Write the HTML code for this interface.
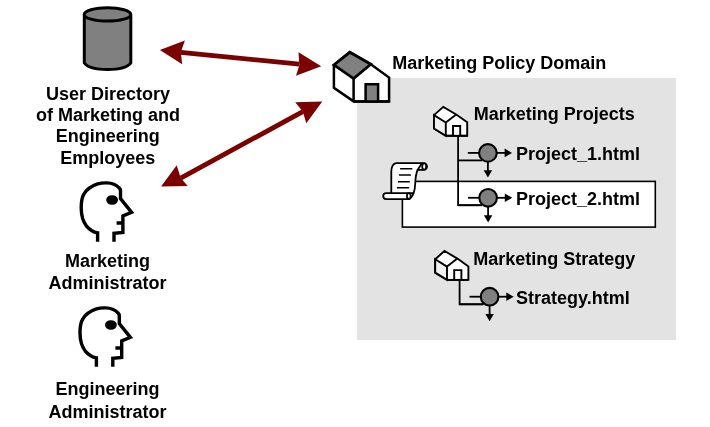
<!DOCTYPE html>
<html><head><meta charset="utf-8">
<style>
html,body{margin:0;padding:0;background:#fff;width:710px;height:427px;overflow:hidden}
svg{position:absolute;left:0;top:0;display:block;will-change:transform}
text{font-family:"Liberation Sans",sans-serif;font-weight:bold;font-size:18px;fill:#000}
</style></head><body>
<svg width="710" height="427" viewBox="0 0 710 427">
<defs>
 <g id="smallhouse" stroke="#000" stroke-width="1.9">
  <path d="M434 115.1 L443.3 106.9 L456.2 114.5 L467.2 122.3 L467.2 135.8 L445.8 135.8 L434 128.5 Z" fill="#fff" stroke-linejoin="miter"/>
  <path d="M434 115.1 L445.8 122.5 L445.8 135.8 L434 128.5 Z" fill="#f0f0f0"/>
  <path d="M445.8 122.5 L456.2 114.5" fill="none"/>
  <path d="M453 135.8 V126 H460.2 V135.8" fill="#fff"/>
  <path d="M445.8 135.8 H467.2" fill="none"/>
 </g>
 <g id="node" stroke="#000" stroke-width="1.8">
  <path d="M467.8 152.9 H481"/>
  <path d="M458.1 160.4 H482" fill="none"/>
  <path d="M496 152.9 H506"/>
  <path d="M504.6 148.6 L512 152.9 L504.6 157.2 Z" fill="#000" stroke="none"/>
  <path d="M487.9 162 V171"/>
  <path d="M483.7 170.3 L487.9 177.5 L492.1 170.3 Z" fill="#000" stroke="none"/>
  <circle cx="487.9" cy="152.9" r="8.8" fill="#808080" stroke-width="2.1"/>
 </g>
</defs>

<!-- grey panel -->
<rect x="357" y="78" width="319" height="262" fill="#e3e3e3"/>

<!-- cylinder -->
<path d="M84.3 14.5 V62.8 C91 71.6 124 71.6 130.8 62.8 V14.5" fill="#808080" stroke="#000" stroke-width="3" stroke-linejoin="miter"/>
<ellipse cx="107.5" cy="14.45" rx="23.25" ry="6.65" fill="#808080" stroke="#000" stroke-width="3"/>

<!-- labels left -->
<text x="108" y="99.6" text-anchor="middle">User Directory</text>
<text x="108" y="121.1" text-anchor="middle">of Marketing and</text>
<text x="107.7" y="142.4" text-anchor="middle">Engineering</text>
<text x="107.8" y="164.1" text-anchor="middle">Employees</text>
<text x="107.5" y="266.9" text-anchor="middle">Marketing</text>
<text x="107.5" y="288.7" text-anchor="middle">Administrator</text>
<text x="107.5" y="395.3" text-anchor="middle">Engineering</text>
<text x="107.5" y="417.5" text-anchor="middle">Administrator</text>

<!-- heads -->
<g id="head" fill="none" stroke="#000" stroke-width="3.4" stroke-linejoin="miter">
 <path d="M97.6 241.8 V232.8 C93 232 89 229 86.3 225.8 C83 221.5 81.3 216 81.2 208 C81.2 201 82 197 84 194 C86 190.5 90 186.5 97.6 183.9 C101 182.9 104 182.8 106.9 182.9 C111 183 116 184.5 119.1 187.8 C120.3 189 120.5 190 120.5 191.1 V198.6 L131.6 212.4 L122.9 216 V232.4 L114 233.3 V241.8 M116.6 223 H123"/>
 <ellipse cx="112.1" cy="200" rx="5.9" ry="4.8" fill="#000" stroke="none"/>
</g>
<use href="#head" x="-1.2" y="125"/>

<!-- red arrows -->
<g fill="#7b0000">
 <path d="M181.04 49.9 L299.54 61.8 L299.06 66.6 L180.56 54.7 Z"/>
 <path d="M159.9 49.9 L184.9 40.5 L180.8 52.2 L182.2 64.2 Z"/>
 <path d="M321.2 66.3 L298.5 52.3 L299.3 65.2 L296 75.7 Z"/>
 <path d="M179.55 175.99 L301.65 109.49 L303.95 113.71 L181.85 180.21 Z"/>
 <path d="M161.1 186.5 L176.7 165.2 L180.7 178.1 L187.7 186.1 Z"/>
 <path d="M322.3 101.4 L295.2 102.2 L302.8 111.6 L306.3 123.3 Z"/>
</g>

<!-- big house -->
<path d="M333.9 65 L349.8 52.3 L370.8 64.3 L389.1 77.6 V101.4 H353.6 L333.9 87.8 Z" fill="#fff" stroke="#000" stroke-width="2.5" stroke-linejoin="miter"/>
<path d="M333.9 65 L349.8 52.3 L370.8 64.3 L353.6 78.6 Z" fill="#808080" stroke="#000" stroke-width="2.8" stroke-linejoin="miter"/>
<path d="M353.6 78.6 V101.4" stroke="#000" stroke-width="2.5"/>
<path d="M365.6 101.4 V84.2 H378.1 V101.4" fill="#808080" stroke="#000" stroke-width="2.5"/>
<path d="M353.6 101.4 H389.1" stroke="#000" stroke-width="2.5"/>

<text x="392.2" y="68.7">Marketing Policy Domain</text>

<!-- projects -->
<rect x="402.4" y="181.4" width="252.9" height="45.7" fill="#fff" stroke="#000" stroke-width="1.6"/>
<use href="#smallhouse"/>
<path d="M458.1 135.6 V205.2 H482" fill="none" stroke="#000" stroke-width="1.8"/>
<use href="#node"/>
<use href="#node" x="0.2" y="44.9"/>
<text x="473.7" y="119.5">Marketing Projects</text>
<text x="515.9" y="159.8">Project_1.html</text>
<text x="515.9" y="204.7">Project_2.html</text>

<!-- scroll -->
<g stroke="#000" stroke-width="1.8" stroke-linejoin="round" stroke-linecap="round" fill="#fff">
 <path d="M396.2 163.1 H423.6 A3.4 3.4 0 0 1 423.6 169.9 H417.6 C415.8 174 415.4 178 415.2 184 C415 190 413.5 196 409.5 199.1 H386.2 A3 3 0 0 1 386.2 193.1 H391.3 V172 Q391.5 163.5 396.2 163.1 Z"/>
 <path d="M421.8 163.3 L417.6 169.9 M391.3 193.1 H413.2" fill="none"/>
 <ellipse cx="424.2" cy="166.5" rx="2" ry="3.1"/>
 <ellipse cx="408.8" cy="196" rx="1.9" ry="2.9"/>
 <path d="M400.1 168.8 H412.3 M399 175 H410.9 M397.9 181.7 H409.8 M396.9 187.7 H409.2" stroke-width="1.6" stroke-linecap="butt"/>
</g>

<!-- strategy -->
<use href="#smallhouse" x="1.2" y="144.1"/>
<path d="M459.6 279.7 V304.3 H483" fill="none" stroke="#000" stroke-width="1.8"/>
<use href="#node" x="1.7" y="143.8"/>
<text x="473.2" y="264.8">Marketing Strategy</text>
<text x="516" y="304">Strategy.html</text>
</svg>
</body></html>
